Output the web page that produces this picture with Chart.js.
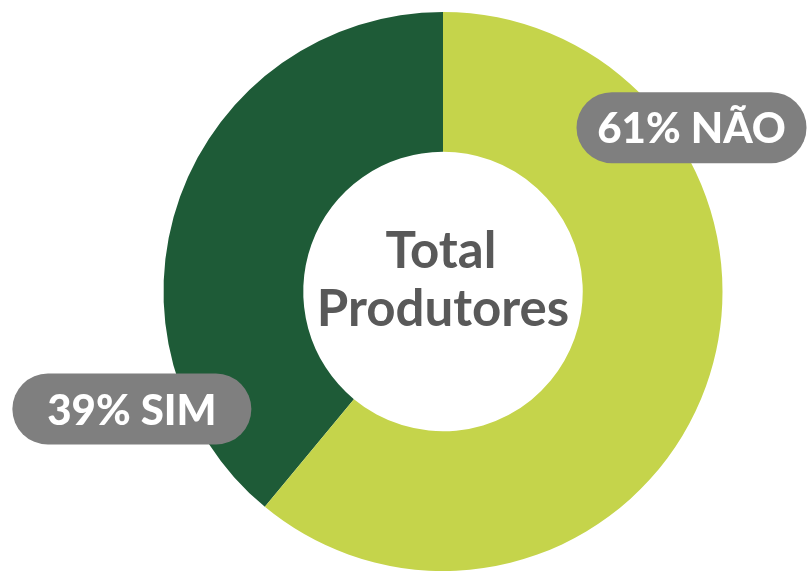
<!DOCTYPE html>
<html>
<head>
<meta charset="utf-8">
<script src="https://cdn.jsdelivr.net/npm/chart.js@4"></script>
<style>
  html, body { margin: 0; padding: 0; background: #fff; }
  #wrap { width: 808px; height: 571px; position: relative; }
</style>
</head>
<body>
<div id="wrap"><canvas id="chart"></canvas></div>
<script>
const categories = ["SIM", "NÃO"];
const shares = [39, 61];
const colors = ["#1E5B37", "#C5D44B"];
const centerLines = ["Total", "Produtores"];

// where each pill sits, as angle (deg) and distance in outer radii from the centre
const pillAnchors = [
  { angle: 159.3, dist: 1.19, width: 239 },
  { angle: -33.4, dist: 1.065, width: 230 },
];

const FONT = '"Lato", "Open Sans", sans-serif';

const pillLabels = {
  id: "pillLabels",
  afterDraw(chart) {
    const c = chart.ctx;
    const meta = chart.getDatasetMeta(0);
    meta.data.forEach((arc, i) => {
      const a = (pillAnchors[i].angle * Math.PI) / 180;
      const r = arc.outerRadius * pillAnchors[i].dist;
      const cx = arc.x + Math.cos(a) * r;
      const cy = arc.y + Math.sin(a) * r;
      const text = shares[i] + "% " + categories[i];
      const h = 71;
      const w = pillAnchors[i].width;
      c.save();
      c.fillStyle = "#7F7F7F";
      c.beginPath();
      c.roundRect(cx - w / 2, cy - h / 2, w, h, h / 2);
      c.fill();
      c.font = "900 42px " + FONT;
      c.fillStyle = "#fff";
      c.textAlign = "center";
      c.textBaseline = "middle";
      c.fillText(text, cx, cy + 2);
      c.restore();
    });

    const arc0 = meta.data[0];
    c.save();
    c.fillStyle = "#595959";
    c.font = "bold 51px " + FONT;
    c.textAlign = "center";
    c.textBaseline = "alphabetic";
    c.fillText(centerLines[0], arc0.x - 2, arc0.y - 24);
    c.fillText(centerLines[1], arc0.x, arc0.y + 34);
    c.restore();
  },
};

new Chart(document.getElementById("chart"), {
  type: "doughnut",
  data: {
    labels: categories,
    datasets: [
      {
        data: shares,
        backgroundColor: colors,
        borderWidth: 0,
      },
    ],
  },
  options: {
    responsive: true,
    maintainAspectRatio: false,
    animation: false,
    cutout: "50%",
    rotation: -shares[0] * 3.6,
    layout: { padding: { top: 12, left: 78, right: 0, bottom: 0 } },
    plugins: {
      legend: { display: false },
      tooltip: { enabled: false },
    },
  },
  plugins: [pillLabels],
});
</script>
</body>
</html>
